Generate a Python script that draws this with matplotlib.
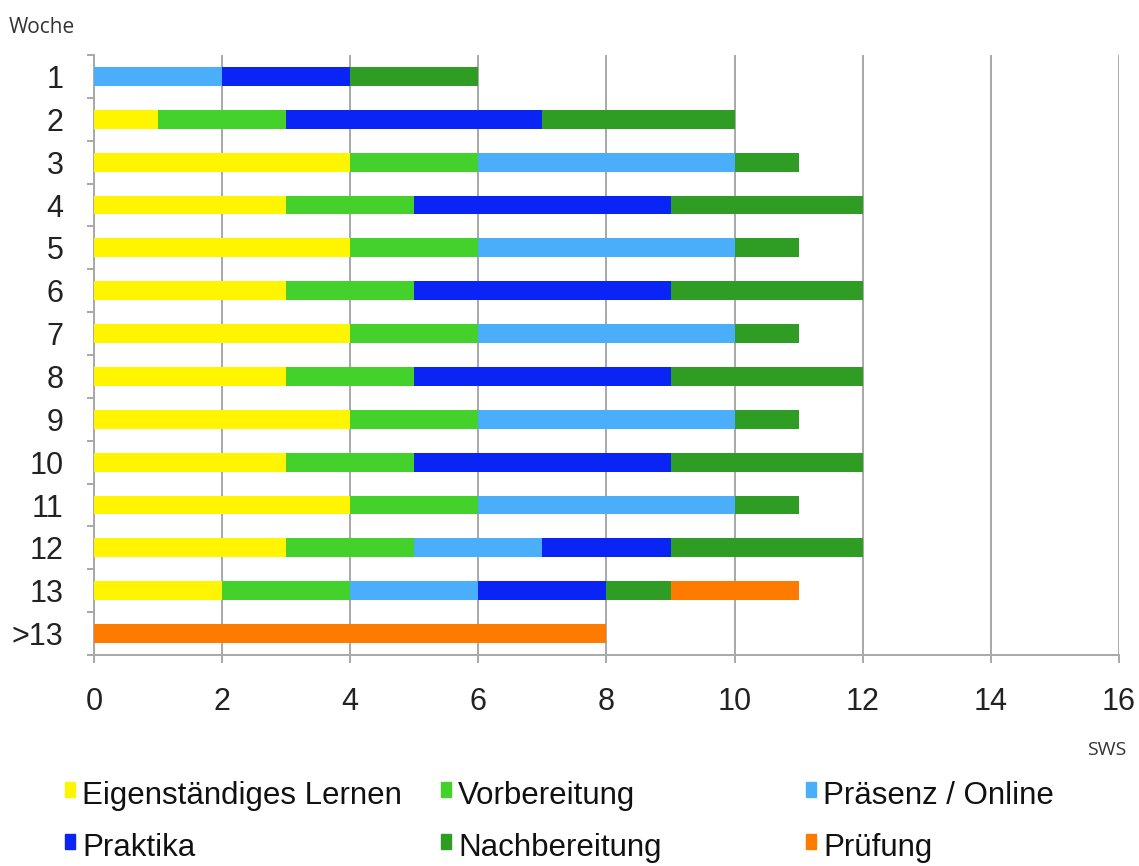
import numpy as np
import matplotlib.pyplot as plt
from matplotlib.patches import Rectangle

# weeks, top to bottom
weeks = ['1', '2', '3', '4', '5', '6', '7', '8', '9', '10', '11', '12', '13', '>13']

# SWS per activity and week
eigen = [0, 1, 4, 3, 4, 3, 4, 3, 4, 3, 4, 3, 2, 0]
vorb = [0, 2, 2, 2, 2, 2, 2, 2, 2, 2, 2, 2, 2, 0]
praesenz = [2, 0, 4, 0, 4, 0, 4, 0, 4, 0, 4, 2, 2, 0]
praktika = [2, 4, 0, 4, 0, 4, 0, 4, 0, 4, 0, 2, 2, 0]
nachb = [2, 3, 1, 3, 1, 3, 1, 3, 1, 3, 1, 3, 1, 0]
pruefung = [0, 0, 0, 0, 0, 0, 0, 0, 0, 0, 0, 0, 2, 8]

series = [eigen, vorb, praesenz, praktika, nachb, pruefung]
labels = ['Eigenständiges Lernen', 'Vorbereitung', 'Präsenz / Online',
          'Praktika', 'Nachbereitung', 'Prüfung']
colors = ['#FFF500', '#45D12B', '#4AAEFA', '#0A24F5', '#2F9C23', '#FF7B00']

plt.rcParams['font.family'] = ['Liberation Sans', 'DejaVu Sans']

fig = plt.figure(figsize=(11.39, 8.66), dpi=100)
ax = fig.add_axes([0.0825, 0.2436, 0.8999, 0.6929])

y = np.arange(len(weeks))
left = np.zeros(len(weeks))
for vals, c in zip(series, colors):
    ax.barh(y, vals, left=left, height=0.44, color=c, zorder=3)
    left += np.array(vals)

ax.set_xlim(0, 16)
ax.set_ylim(len(weeks) - 0.5, -0.5)
ax.set_xticks(range(0, 17, 2))
ax.set_yticks(y)
ax.set_yticklabels(weeks)
ax.set_yticks(np.arange(-0.5, len(weeks)), minor=True)

grey = '#A8A8A8'
ax.grid(axis='x', color=grey, linewidth=1.4, zorder=0)
for s in ['top', 'right']:
    ax.spines[s].set_visible(False)
for s in ['left', 'bottom']:
    ax.spines[s].set_color(grey)
    ax.spines[s].set_linewidth(1.4)

ax.tick_params(axis='x', length=6, width=1.4, color=grey, pad=17, labelsize=22, labelcolor='#222222')
ax.tick_params(axis='y', which='major', length=0, pad=22, labelsize=22, labelcolor='#222222')
ax.tick_params(axis='y', which='minor', length=5, width=1.4, color=grey)

small = dict(family=['Open Sans', 'DejaVu Sans'], color='#333333', va='center')
fig.text(0.008, 0.968, 'Woche', fontsize=15, **small)
fig.text(0.989, 0.134, 'SWS', fontsize=14, ha='right', **small)

# legend drawn as a 3x2 grid
col_x = [65, 441, 806]
row_y = [804, 856]
for i, (lab, c) in enumerate(zip(labels, colors)):
    px = col_x[i % 3]
    py = row_y[i // 3]
    fig.patches.append(Rectangle((px / 1139, 1 - (py - 7) / 866), 10 / 1139, 15 / 866,
                                 transform=fig.transFigure, color=c))
    fig.text((px + 17) / 1139, 1 - py / 866, lab, fontsize=22.5, va='baseline', color='#111111')

fig.savefig('out.png', dpi=100)
